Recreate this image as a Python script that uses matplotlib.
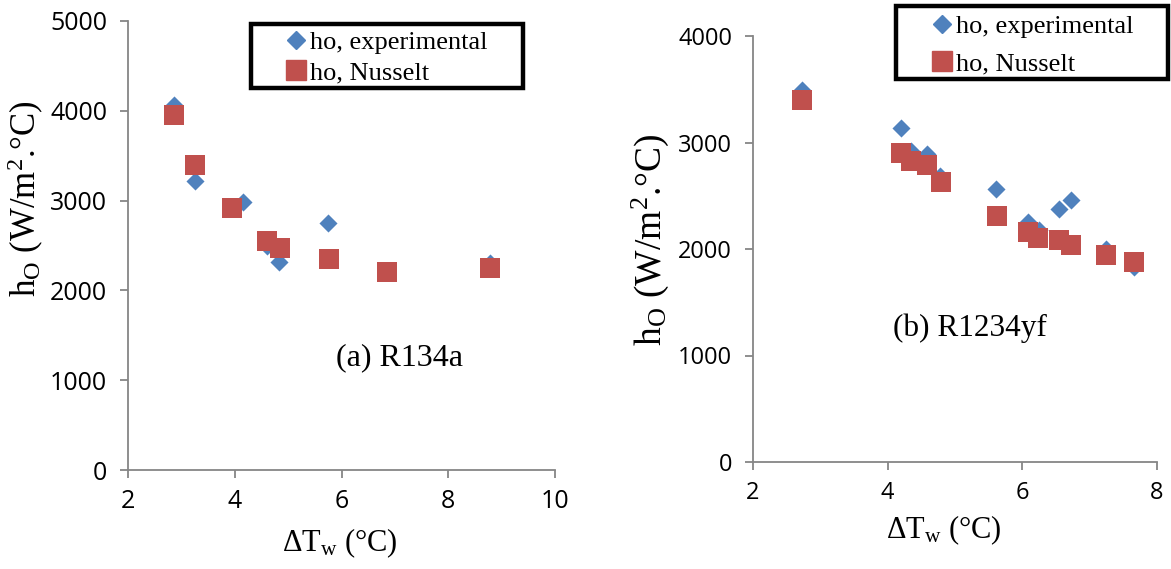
import matplotlib
matplotlib.use("Agg")
import matplotlib.pyplot as plt
from matplotlib.patches import Rectangle

plt.rcParams['mathtext.fontset'] = 'custom'
plt.rcParams['mathtext.rm'] = 'Liberation Serif'
plt.rcParams['mathtext.it'] = 'Liberation Serif:italic'

# (a) R134a
a_x_exp = [2.86, 3.25, 4.15, 4.60, 4.83, 5.75, 6.86, 8.79]
a_h_exp = [4070, 3220, 2980, 2490, 2320, 2750, 2210, 2310]
a_x_nus = [2.87, 3.26, 3.95, 4.60, 4.85, 5.76, 6.86, 8.79]
a_h_nus = [3950, 3400, 2920, 2545, 2470, 2350, 2200, 2250]

# (b) R1234yf
b_x_exp = [2.73, 4.20, 4.35, 4.59, 4.77, 5.61, 6.09, 6.25, 6.54, 6.72, 7.24, 7.66]
b_h_exp = [3490, 3140, 2920, 2890, 2690, 2560, 2250, 2180, 2380, 2460, 2000, 1830]
b_x_nus = [2.73, 4.20, 4.35, 4.59, 4.79, 5.62, 6.09, 6.24, 6.54, 6.73, 7.24, 7.66]
b_h_nus = [3400, 2900, 2830, 2790, 2630, 2310, 2160, 2100, 2080, 2040, 1940, 1880]

BLUE = '#4F81BD'
RED = '#C0504D'
GREY = '#868686'
W, H = 1171, 569


def px(x0, y0, x1, y1):
    # pixel box -> figure fraction [left, bottom, width, height]
    return [x0 / W, 1 - y1 / H, (x1 - x0) / W, (y1 - y0) / H]


def style_axes(ax, xt, yt, tick_size):
    for s in ['top', 'right']:
        ax.spines[s].set_visible(False)
    for s in ['left', 'bottom']:
        ax.spines[s].set_color(GREY)
        ax.spines[s].set_linewidth(1.3)
    ax.set_xticks(xt)
    ax.set_yticks(yt)
    ax.tick_params(axis='both', direction='out', length=6, width=1.3, color=GREY,
                   labelsize=tick_size)
    ax.tick_params(axis='y', pad=9)
    ax.tick_params(axis='x', pad=8)
    for lab in ax.get_xticklabels() + ax.get_yticklabels():
        lab.set_fontfamily('Open Sans')


def add_legend(fig, ax, box, anchor, spacing):
    h1, = ax.plot([], [], 'D', color=BLUE, ms=9.2, label='ho, experimental')
    h2, = ax.plot([], [], 's', color=RED, ms=14, label='ho, Nusselt')
    leg = fig.legend(handles=[h1, h2], loc='upper left',
                     bbox_to_anchor=(anchor[0] / W, 1 - anchor[1] / H),
                     frameon=False, borderpad=0, borderaxespad=0,
                     handlelength=0.8, handletextpad=0.15, labelspacing=spacing,
                     prop={'family': 'Liberation Serif', 'size': 19})
    x0, y0, x1, y1 = box
    fig.patches.append(Rectangle((x0 / W, 1 - y1 / H), (x1 - x0) / W, (y1 - y0) / H,
                                 transform=fig.transFigure, fill=False,
                                 edgecolor='black', linewidth=3.2, zorder=5))
    return leg


fig = plt.figure(figsize=(W / 100, H / 100), dpi=100)

# panel (a)
ax1 = fig.add_axes(px(128, 21, 555, 470))
ax1.scatter(a_x_exp, a_h_exp, marker='D', s=9.2 ** 2, color=BLUE, linewidths=0, zorder=3)
ax1.scatter(a_x_nus, a_h_nus, marker='s', s=14.5 ** 2, color=RED, linewidths=0, zorder=4)
ax1.set_xlim(2, 10)
ax1.set_ylim(0, 5000)
style_axes(ax1, [2, 4, 6, 8, 10], [0, 1000, 2000, 3000, 4000, 5000], 18)
ax1.text(0.637, 0.249, '(a) R134a', transform=ax1.transAxes, ha='center', va='center',
         family='Liberation Serif', fontsize=23)
add_legend(fig, ax1, (251, 24, 523, 88), (285, 31), 0.25)

# panel (b)
ax2 = fig.add_axes(px(753, 36, 1157, 462))
ax2.scatter(b_x_exp, b_h_exp, marker='D', s=9.2 ** 2, color=BLUE, linewidths=0, zorder=3)
ax2.scatter(b_x_nus, b_h_nus, marker='s', s=14.5 ** 2, color=RED, linewidths=0, zorder=4)
ax2.set_xlim(2, 8)
ax2.set_ylim(0, 4000)
style_axes(ax2, [2, 4, 6, 8], [0, 1000, 2000, 3000, 4000], 17)
ax2.text(0.536, 0.314, '(b) R1234yf', transform=ax2.transAxes, ha='center', va='center',
         family='Liberation Serif', fontsize=22.5)
add_legend(fig, ax2, (896, 6, 1168, 79), (931, 15), 0.5)

# axis labels
ylab = r'h$_\mathrm{O}$ (W/m$^2$.°C)'
xlab = r'ΔT$_\mathrm{w}$ (°C)'
fig.text(26 / W, 1 - 199 / H, ylab, rotation=90, ha='center', va='center',
         family='Liberation Serif', fontsize=25)
fig.text(650 / W, 1 - 240 / H, ylab, rotation=90, ha='center', va='center',
         family='Liberation Serif', fontsize=27)
fig.text(340 / W, 1 - 543 / H, xlab, ha='center', va='center',
         family='Liberation Serif', fontsize=22)
fig.text(944 / W, 1 - 530 / H, xlab, ha='center', va='center',
         family='Liberation Serif', fontsize=22)

fig.savefig('out.png', dpi=100)
